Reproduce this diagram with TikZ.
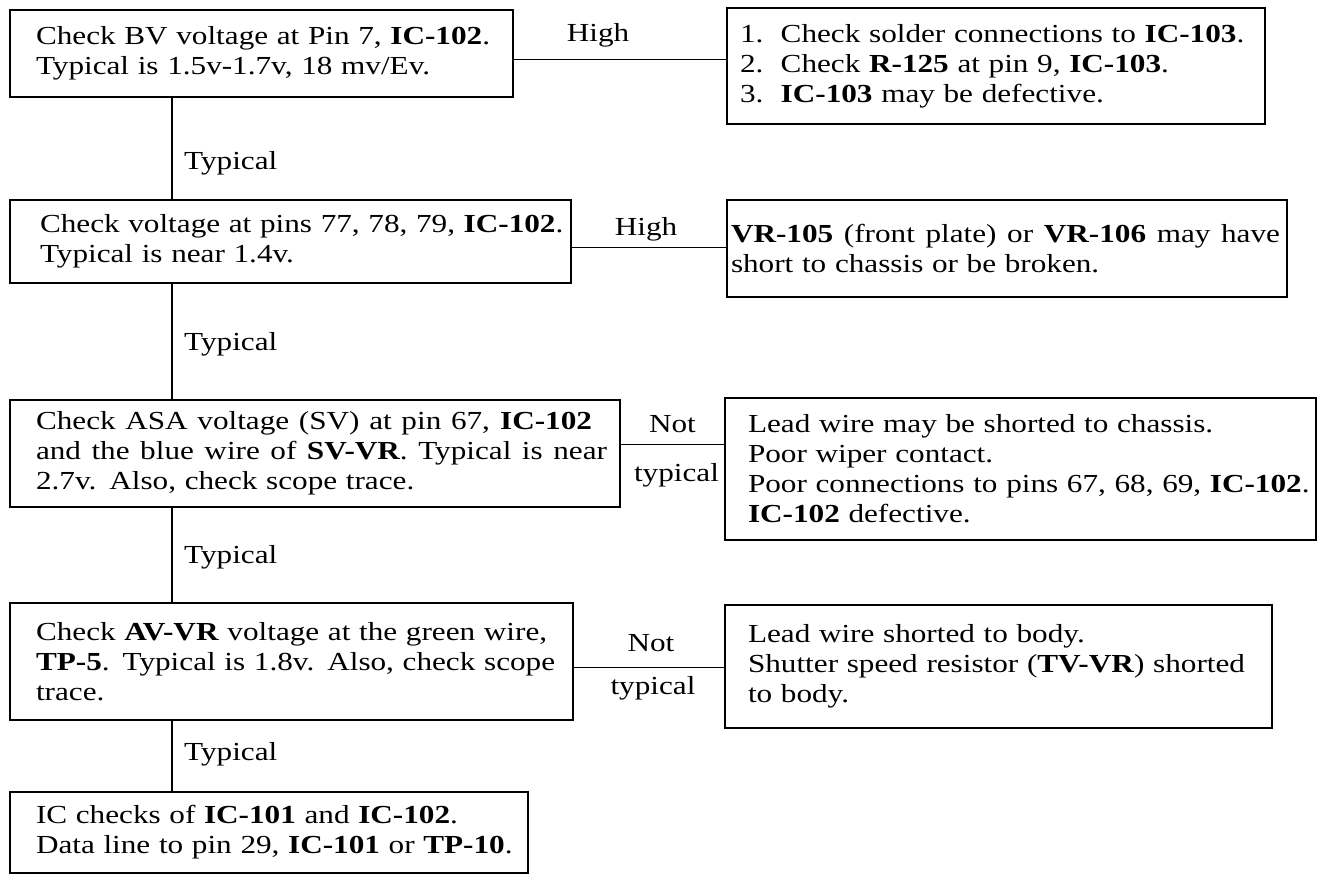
\documentclass[tikz,border=0pt]{standalone}
\usepackage{fontspec}
\setmainfont{Liberation Serif}[FakeStretch=1.2]
\newcommand\Ln[1]{\mbox{#1}}
\newcommand\Sl[2]{\leavevmode\hbox to #1{\spaceskip=7.8pt plus 10pt\relax #2}}
\tikzset{
  x=1pt, y=-1pt,
  box/.style={draw, line width=1.8pt, rectangle, anchor=north west, outer sep=0pt,
    align=left, inner ysep=0pt,
    font=\fontsize{26}{30}\selectfont},
  lab/.style={font=\fontsize{26}{30}\selectfont, inner sep=0pt},
  conn/.style={line width=1.5pt}
}
\newcommand\bx[7]{% name, x1, y1, x2, y2, pad, text
  \pgfmathsetmacro\bw{#4-#2}\pgfmathsetmacro\bh{#5-#3}\pgfmathsetmacro\tw{#4-#2-2*#6}%
  \node[box, minimum width=\bw pt, minimum height=\bh pt, inner xsep=#6pt, text width=\tw pt] (#1) at (#2,#3) {#7};}
\begin{document}
\begin{tikzpicture}
\useasboundingbox (0,0) rectangle (1327,881);
\fill[white] (0,0) rectangle (1327,881);
\bx{b1}{10}{10}{513}{97}{26}{\Ln{Check BV voltage at Pin 7, \textbf{IC-102}.}\\\Ln{Typical is 1.5v-1.7v, 18 mv/Ev.}}
\bx{r1}{727}{8}{1265}{124}{13}{\Ln{1.\ \ Check solder connections to \textbf{IC-103}.}\\\Ln{2.\ \ Check \textbf{R-125} at pin 9, \textbf{IC-103}.}\\\Ln{3.\ \ \textbf{IC-103} may be defective.}}
\bx{b2}{10}{200}{571}{283}{30}{\Ln{Check voltage at pins 77, 78, 79, \textbf{IC-102}.}\\\Ln{Typical is near 1.4v.}}
\bx{r2}{727}{200}{1287}{297}{4}{\Sl{549pt}{\textbf{VR-105} (front plate) or \textbf{VR-106} may have}\\\Ln{short to chassis or be broken.}}
\bx{b3}{10}{400}{620}{507}{26}{\Sl{556pt}{Check ASA voltage (SV) at pin 67, \textbf{IC-102}}\\\Sl{571pt}{and the blue wire of \textbf{SV-VR}. Typical is near}\\\Ln{2.7v. Also, check scope trace.}}
\bx{r3}{725}{398}{1316}{540}{23}{\Ln{Lead wire may be shorted to chassis.}\\\Ln{Poor wiper contact.}\\\Ln{Poor connections to pins 67, 68, 69, \textbf{IC-102}.}\\\Ln{\textbf{IC-102} defective.}}
\bx{b4}{10}{603}{573}{720}{26}{\Ln{Check \textbf{AV-VR} voltage at the green wire,}\\\Ln{\textbf{TP-5}. Typical is 1.8v. Also, check scope}\\\Ln{trace.}}
\bx{r4}{725}{605}{1272}{728}{23}{\Ln{Lead wire shorted to body.}\\\Ln{Shutter speed resistor (\textbf{TV-VR}) shorted}\\\Ln{to body.}}
\bx{b5}{10}{792}{528}{873}{26}{\Ln{IC checks of \textbf{IC-101} and \textbf{IC-102}.}\\\Ln{Data line to pin 29, \textbf{IC-101} or \textbf{TP-10}.}}
% vertical connectors
\draw[conn] ([xshift=162pt]b1.south west) -- ([xshift=162pt]b2.north west) coordinate[pos=0.64] (t1);
\draw[conn] ([xshift=162pt]b2.south west) -- ([xshift=162pt]b3.north west) coordinate[pos=0.52] (t2);
\draw[conn] ([xshift=162pt]b3.south west) -- ([xshift=162pt]b4.north west) coordinate[pos=0.52] (t3);
\draw[conn] ([xshift=162pt]b4.south west) -- ([xshift=162pt]b5.north west) coordinate[pos=0.47] (t4);
\node[lab, anchor=west] (lt1) at ([xshift=12pt]t1) {Typical};
\node[lab, anchor=west] (lt2) at ([xshift=12pt]t2) {Typical};
\node[lab, anchor=west] (lt3) at ([xshift=12pt]t3) {Typical};
\node[lab, anchor=west] (lt4) at ([xshift=12pt]t4) {Typical};
% horizontal connectors
\draw[conn] ([yshift=-6pt]b1.east) -- ([yshift=-6pt]b1.east -| r1.west) coordinate[pos=0.5] (h1);
\draw[conn] ([yshift=-6pt]b2.east) -- ([yshift=-6pt]b2.east -| r2.west) coordinate[pos=0.5] (h2);
\draw[conn] ([yshift=9pt]b3.east) -- ([yshift=9pt]b3.east -| r3.west) coordinate[pos=0.5] (h3);
\draw[conn] ([yshift=-6pt]b4.east) -- ([yshift=-6pt]b4.east -| r4.west) coordinate[pos=0.5] (h4);
\node[lab] (lh1) at ([xshift=-22pt,yshift=24pt]h1) {High};
\node[lab] (lh2) at ([xshift=-3pt,yshift=18pt]h2) {High};
\node[lab] (ln3) at ([yshift=20pt]h3) {Not};
\node[lab] (lnt3) at ([xshift=4pt,yshift=-31pt]h3) {typical};
\node[lab] (ln4) at ([xshift=2pt,yshift=24pt]h4) {Not};
\node[lab] (lnt4) at ([xshift=4pt,yshift=-21pt]h4) {typical};
\end{tikzpicture}
\end{document}
